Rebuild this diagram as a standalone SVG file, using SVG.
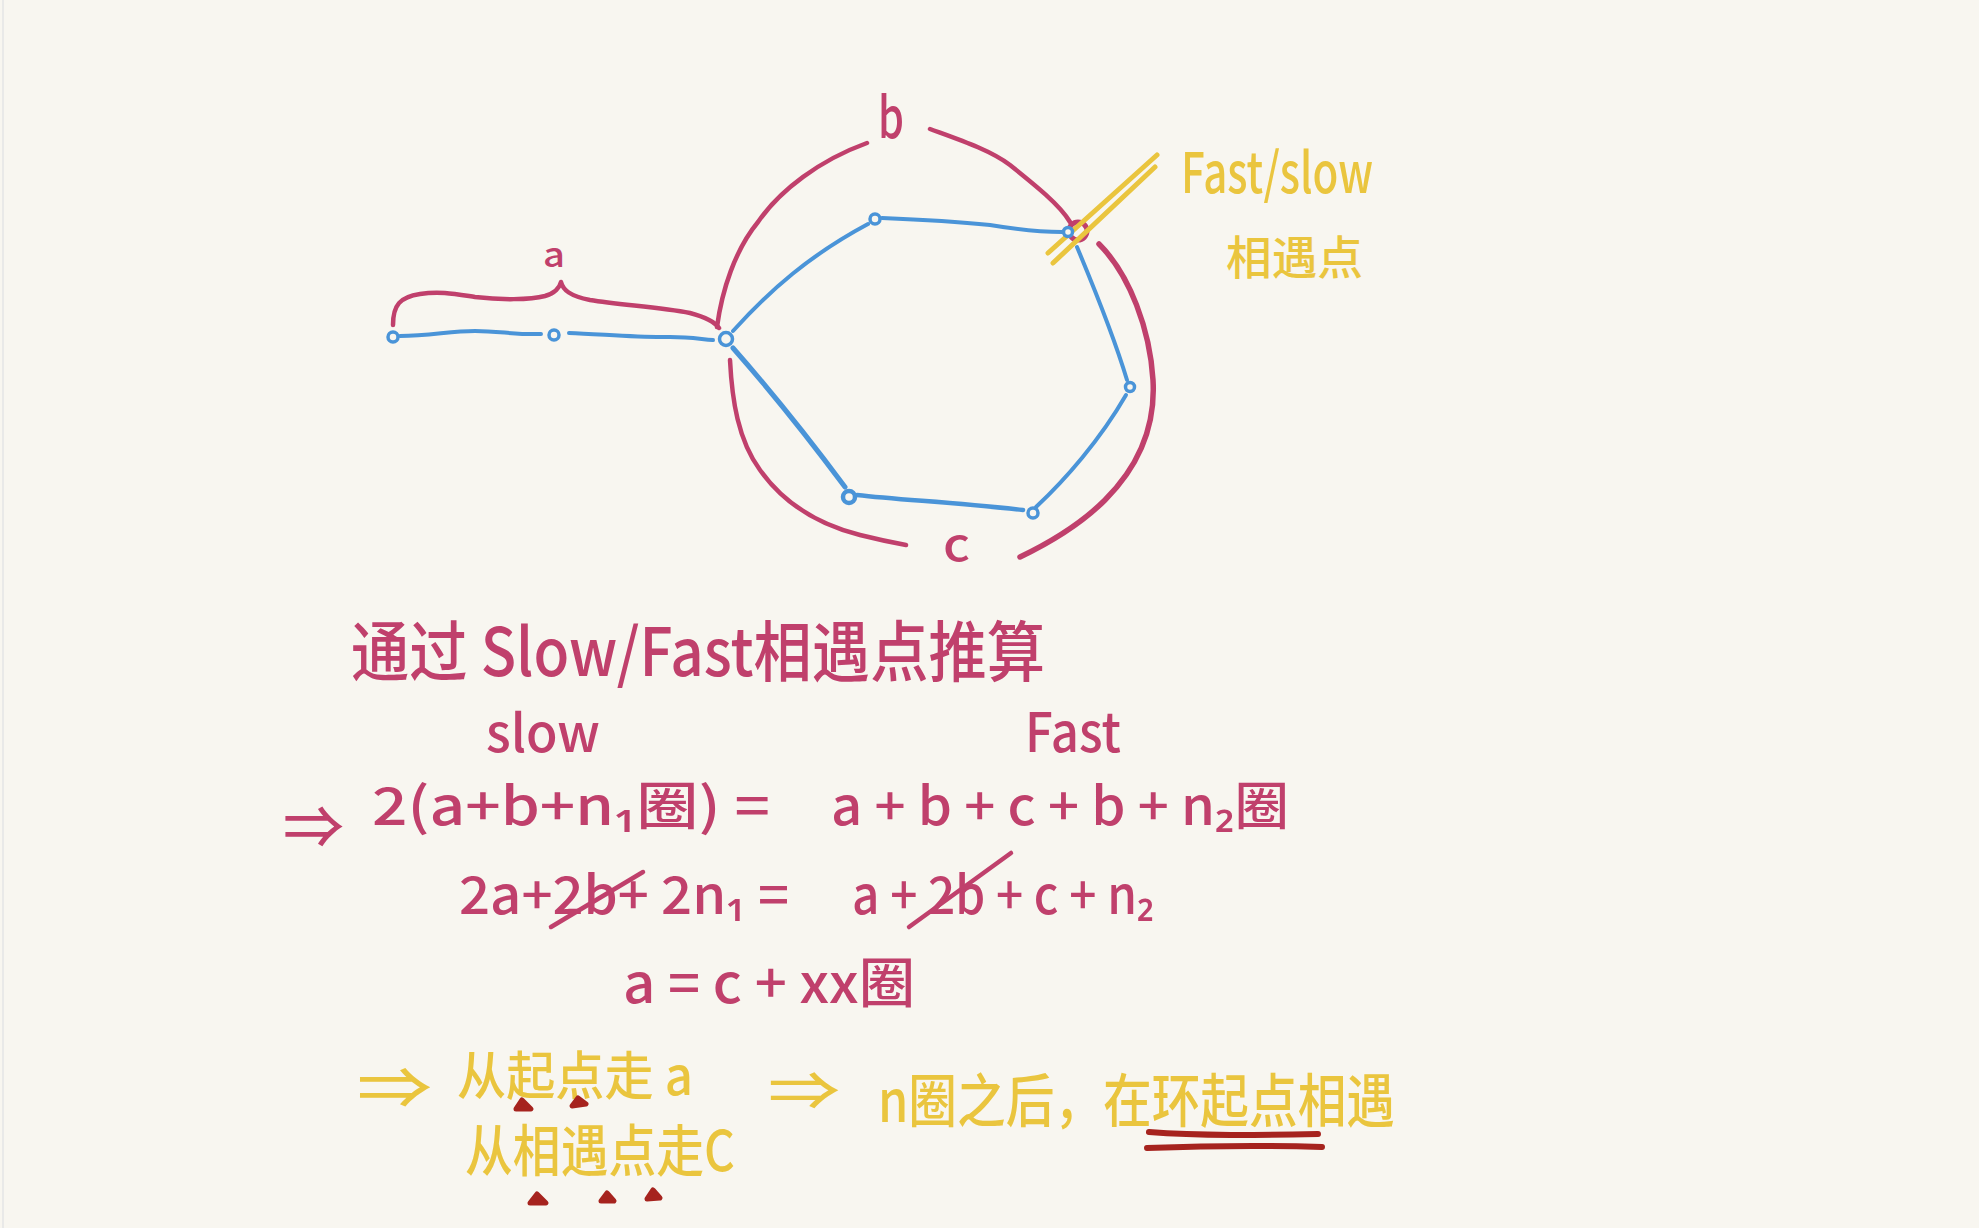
<svg xmlns="http://www.w3.org/2000/svg" width="1979" height="1228" viewBox="0 0 1979 1228">
<style>
.red{fill:none;stroke:#C0406C;stroke-width:4.5;stroke-linecap:round;stroke-linejoin:round}
.blue{fill:none;stroke:#4A94D8;stroke-width:4;stroke-linecap:round;stroke-linejoin:round}
.node{fill:#F8F6F0;stroke:#4A94D8;stroke-width:3.5}
.yel{fill:none;stroke:#EAC53E;stroke-width:5;stroke-linecap:round}
.dred{fill:none;stroke:#A6231E;stroke-linecap:round;stroke-linejoin:round}
.t{font-family:"Noto Sans CJK SC","Noto Sans",sans-serif;font-weight:500}
.tr{fill:#C0406C}
.ty{fill:#EAC53E}
</style>
<rect x="0" y="0" width="1979" height="1228" fill="#F8F6F0"/>
<line x1="3" y1="0" x2="3" y2="1228" stroke="#E4E4E6" stroke-width="1.5"/>

<g id="annotations">
  <path class="red" d="M393,325 C393,305 400,297 420,294 C440,291 455,294 475,297 C500,300 530,300 545,296 C555,293 560,287 561,282 C563,290 570,296 590,300 C620,305 660,307 690,313 C705,317 715,322 719,328"/>
  <path class="red" d="M717,327 C722,290 735,250 758,222 C780,190 820,160 867,143"/>
  <path class="red" d="M930,129 C960,140 990,150 1010,165 C1035,185 1060,205 1070,222"/>
  <circle cx="1078" cy="231" r="9" fill="none" stroke="#C0406C" stroke-width="5"/>
  <path class="red" style="stroke-width:5.5" d="M1099,244 C1130,275 1150,330 1153,380 C1156,430 1135,470 1105,500 C1080,525 1045,545 1020,557"/>
  <path class="red" d="M730,360 C732,400 738,440 760,470 C785,505 820,525 860,535 C880,540 895,543 906,545"/>
  <line class="yel" x1="1048" y1="253" x2="1157" y2="155"/>
  <line class="yel" x1="1053" y1="263" x2="1155" y2="167"/>
</g>

<g id="connectors">
  <path class="blue" d="M400,336 C430,336 450,331 475,331 C500,331 515,335 541,334"/>
  <path class="blue" d="M569,333 C600,334 640,338 670,337 C690,337 700,339 713,340"/>
  <path class="blue" d="M733,331 C770,290 810,255 868,224"/>
  <path class="blue" d="M882,218 C930,220 960,222 990,225 C1020,230 1045,232 1062,232"/>
  <path class="blue" d="M1077,247 C1095,290 1115,340 1127,380"/>
  <path class="blue" d="M1126,395 C1100,440 1065,480 1036,507"/>
  <path class="blue" style="stroke-width:4.5" d="M857,495 C900,500 950,502 1023,510"/>
  <path class="blue" style="stroke-width:5" d="M845,487 C810,440 770,390 733,348"/>
</g>

<g id="n1"><circle class="node" cx="393" cy="337" r="5"/></g>
<g id="n2"><circle class="node" cx="554" cy="335" r="5"/></g>
<g id="n3"><circle class="node" cx="726" cy="339" r="6.5"/></g>
<g id="n4"><circle class="node" cx="875" cy="219" r="5"/></g>
<g id="n5"><circle class="node" cx="1068" cy="232" r="4.5"/></g>
<g id="n6"><circle class="node" cx="1130" cy="387" r="4.5"/></g>
<g id="n7"><circle class="node" cx="1033" cy="513" r="5"/></g>
<g id="n8"><circle class="node" style="stroke-width:4.5" cx="849" cy="497" r="6"/></g>

<g id="labels-diagram">
  <text class="t tr" x="543" y="267" font-size="34" textLength="22" lengthAdjust="spacingAndGlyphs">a</text>
  <text class="t tr" x="878" y="138" font-size="56" textLength="26" lengthAdjust="spacingAndGlyphs">b</text>
  <text class="t tr" x="943" y="561" font-size="46" textLength="27" lengthAdjust="spacingAndGlyphs">c</text>
  <text class="t ty" x="1181" y="193" font-size="56" textLength="192" lengthAdjust="spacingAndGlyphs">Fast/slow</text>
  <text class="t ty" x="1226" y="274" font-size="46" textLength="137" lengthAdjust="spacingAndGlyphs">相遇点</text>
</g>

<g id="derivation">
  <text class="t tr" x="351" y="676" font-size="66" textLength="694" lengthAdjust="spacingAndGlyphs">通过 Slow/Fast相遇点推算</text>
  <text class="t tr" x="486" y="752" font-size="52" textLength="114" lengthAdjust="spacingAndGlyphs">slow</text>
  <text class="t tr" x="1025" y="752" font-size="54" textLength="96" lengthAdjust="spacingAndGlyphs">Fast</text>
  <text class="t tr" x="283" y="848" font-size="58" font-family="DejaVu Sans" textLength="61" lengthAdjust="spacingAndGlyphs">⇒</text>
  <text class="t tr" x="372" y="825" font-size="52" textLength="398" lengthAdjust="spacingAndGlyphs">2(a+b+n₁圈) =</text>
  <text class="t tr" x="831" y="825" font-size="52" textLength="458" lengthAdjust="spacingAndGlyphs">a + b + c + b + n₂圈</text>
  <text class="t tr" x="459" y="914" font-size="52" textLength="330" lengthAdjust="spacingAndGlyphs">2a+2b+ 2n₁ =</text>
  <text class="t tr" x="852" y="914" font-size="52" textLength="302" lengthAdjust="spacingAndGlyphs">a + 2b + c + n₂</text>
  <line class="red" x1="551" y1="927" x2="643" y2="872"/>
  <line class="red" x1="909" y1="927" x2="1011" y2="853"/>
  <text class="t tr" x="623" y="1003" font-size="54" textLength="292" lengthAdjust="spacingAndGlyphs">a = c + xx圈</text>
</g>

<g id="conclusion">
  <text class="t ty" x="357" y="1108" font-size="56" font-family="DejaVu Sans" textLength="75" lengthAdjust="spacingAndGlyphs">⇒</text>
  <text class="t ty" x="457" y="1095" font-size="52" textLength="236" lengthAdjust="spacingAndGlyphs">从起点走 a</text>
  <text class="t ty" x="465" y="1171" font-size="56" textLength="270" lengthAdjust="spacingAndGlyphs">从相遇点走C</text>
  <text class="t ty" x="768" y="1110" font-size="52" font-family="DejaVu Sans" textLength="72" lengthAdjust="spacingAndGlyphs">⇒</text>
  <text class="t ty" x="878" y="1122" font-size="58" textLength="517" lengthAdjust="spacingAndGlyphs">n圈之后，在环起点相遇</text>
  <g id="emphasis" class="dred" style="stroke-width:5;fill:#A6231E">
    <path d="M516,1109 L522,1100 L531,1109 Z"/>
    <path d="M572,1106 L578,1098 L586,1104 Z"/>
    <path d="M530,1203 L537,1194 L546,1203 Z"/>
    <path d="M601,1201 L607,1193 L614,1201 Z"/>
    <path d="M647,1199 L653,1190 L660,1198 Z"/>
  </g>
  <path class="dred" style="stroke-width:6" d="M1149,1132 C1200,1136 1260,1135 1318,1134"/>
  <path class="dred" style="stroke-width:6" d="M1147,1148 C1200,1146 1260,1145 1322,1147"/>
</g>
</svg>
